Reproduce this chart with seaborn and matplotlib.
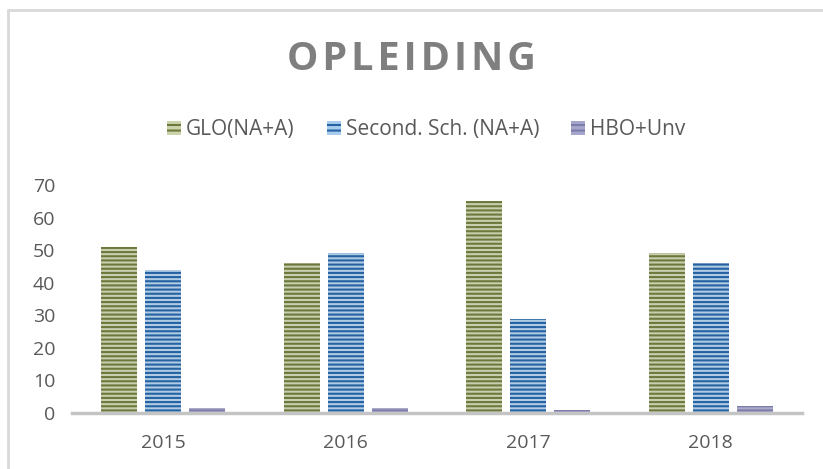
import matplotlib
matplotlib.use('Agg')
import pandas as pd
import numpy as np
import matplotlib.pyplot as plt
import seaborn as sns
from matplotlib.lines import Line2D
from matplotlib.patches import Patch

years = ['2015', '2016', '2017', '2018']
series = ['GLO(NA+A)', 'Second. Sch. (NA+A)', 'HBO+Unv']
glo = [51, 46, 65, 49]
second = [44, 49, 29, 46]
hbo = [1.5, 1.5, 1, 2]

face = {'GLO(NA+A)': '#ccd3ab', 'Second. Sch. (NA+A)': '#a8cbee', 'HBO+Unv': '#a6a6cc'}
dark = {'GLO(NA+A)': '#6b7a3c', 'Second. Sch. (NA+A)': '#2462a2', 'HBO+Unv': '#7c7cac'}

df = pd.DataFrame({
    'year': years * 3,
    'series': [series[0]] * 4 + [series[1]] * 4 + [series[2]] * 4,
    'value': glo + second + hbo,
})

sns.set_style('white')
plt.rcParams['font.family'] = ['Open Sans', 'DejaVu Sans']
plt.rcParams['hatch.linewidth'] = 1.5

fig = plt.figure(figsize=(8.23, 4.69), dpi=100)
ax = fig.add_axes([72 / 823, 56 / 469, 730 / 823, 228 / 469])

sns.barplot(data=df, x='year', y='value', hue='series', order=years, hue_order=series,
            palette=face, width=0.72, gap=0.18, legend=False, ax=ax)

# stripes like the Excel texture
for cont, s in zip(ax.containers, series):
    for bar in cont:
        bar.set_hatch('----')
        bar.set_edgecolor(dark[s])
        bar.set_linewidth(0)

ax.set_xlim(-0.5, 3.5)
ax.set_ylim(0, 70)
ax.set_yticks(range(0, 71, 10))
ax.set_xlabel('')
ax.set_ylabel('')
for sp in ['top', 'right', 'left']:
    ax.spines[sp].set_visible(False)
ax.spines['bottom'].set_color('#c4c4c4')
ax.spines['bottom'].set_linewidth(2.5)
ax.tick_params(axis='both', length=0, labelsize=14, labelcolor='#595959')
ax.tick_params(axis='y', pad=12)
ax.tick_params(axis='x', pad=15)

fig.text(0.5, 0.874, 'O\u200aP\u200aL\u200aE\u200aI\u200aD\u200aI\u200aN\u200aG', ha='center', va='center',
         fontsize=28.5, fontweight='bold', color='#7f7f7f')

handles = [Patch(facecolor=face[s], edgecolor=dark[s], hatch='---', linewidth=0) for s in series]
fig.legend(handles, series, loc='center', bbox_to_anchor=(0.518, 0.723), ncol=3, frameon=False,
           fontsize=15, labelcolor='#595959', handlelength=0.67, handleheight=0.67,
           handletextpad=0.24, columnspacing=1.54, borderaxespad=0, borderpad=0)

# chart frame
fig.add_artist(Line2D([8 / 823, 8 / 823], [0, 1 - 10 / 469], color='#d9d9d9', lw=2, transform=fig.transFigure))
fig.add_artist(Line2D([8 / 823, 1], [1 - 10 / 469, 1 - 10 / 469], color='#d9d9d9', lw=2, transform=fig.transFigure))

fig.savefig('out.png', dpi=100)
